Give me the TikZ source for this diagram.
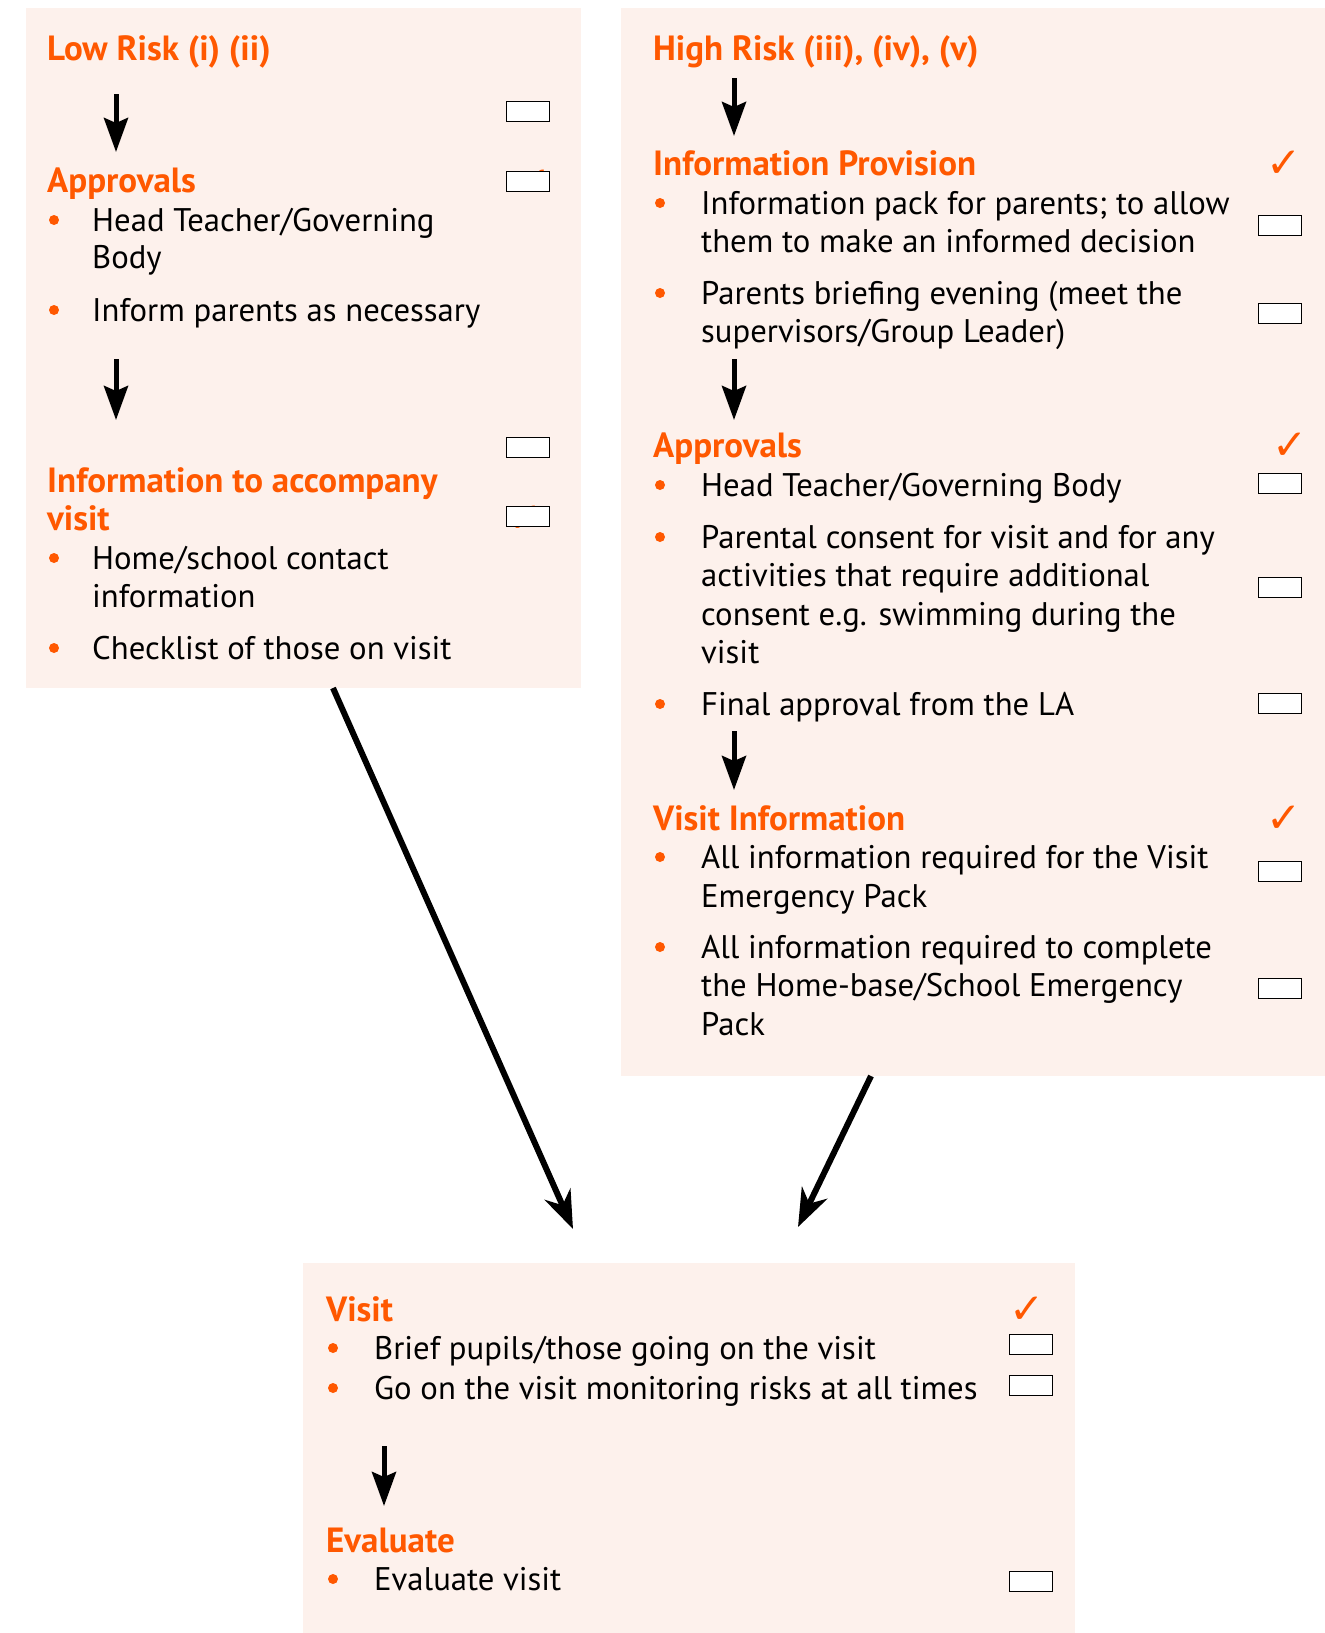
\documentclass[tikz,border=0pt]{standalone}
\usepackage{fontspec}
\setmainfont{PT Sans}
\newfontfamily\symfont{DejaVu Sans}
\usetikzlibrary{arrows.meta}
\definecolor{panelbg}{RGB}{253,241,236}
\definecolor{hot}{RGB}{255,88,0}
\begin{document}
\begin{tikzpicture}[x=1pt,y=-1pt,
  panel/.style={fill=panelbg, draw=none, inner sep=0pt, anchor=north west},
  head/.style={anchor=base west, inner sep=0pt, text=hot, font=\fontsize{35}{40}\selectfont\bfseries},
  txt/.style={anchor=base west, inner sep=0pt, font=\fontsize{32.7}{38}\selectfont},
  bul/.style={circle, fill=hot, inner sep=0pt, minimum size=10pt},
  cbox/.style={draw=black, line width=1.3pt, fill=white, minimum width=43pt, minimum height=20pt, inner sep=0pt, anchor=north west},
  tick/.style={text=hot, inner sep=0pt, font=\symfont\fontsize{42}{42}\selectfont},
  down/.style={line width=5pt, -{Stealth[length=34pt, width=24pt, inset=5pt]}},
  long/.style={line width=6pt, -{Stealth[length=38pt, width=28pt, inset=12pt]}}
]
\useasboundingbox (0,0) rectangle (1325,1633);
\fill[white] (0,0) rectangle (1325,1633);

% panels
\node[panel, minimum width=555pt, minimum height=680pt] (low) at (26,8) {};
\node[panel, minimum width=704pt, minimum height=1068pt] (high) at (621,8) {};
\node[panel, minimum width=772pt, minimum height=370pt] (vis) at (303,1263) {};

% ---------- Low risk panel ----------
\node[head] (lr) at (47,60) {Low Risk (i) (ii)};
\coordinate (la1s) at (116,94); \coordinate (la1e) at (116,152);
\draw[down] (la1s) -- (la1e);
\node[cbox] (lc1) at (506,101) {};
\node[tick] (lt2) at (534,183) {✓};
\node[cbox] (lc2) at (506,171) {};
\node[head] (lap) at (47,192) {Approvals};
\node[bul] (lb1) at (54,220) {};
\node[txt] (l1a) at (92,231) {Head Teacher/Governing};
\node[txt] (l1b) at (92,268) {Body};
\node[bul] (lb2) at (54,310) {};
\node[txt] (l2) at (92,321) {Inform parents as necessary};
\coordinate (la2s) at (116,359); \coordinate (la2e) at (116,420);
\draw[down] (la2s) -- (la2e);
\node[cbox] (lc3) at (506,437) {};
\node[head] (lia) at (47,492) {Information to accompany};
\node[head] (lib) at (47,530) {visit};
\node[tick] (lt4) at (525,519) {✓};
\node[cbox] (lc4) at (506,506) {};
\node[bul] (lb3) at (54,558) {};
\node[txt] (l3a) at (92,569) {Home/school contact};
\node[txt] (l3b) at (92,607) {information};
\node[bul] (lb4) at (54,648) {};
\node[txt] (l4) at (92,659) {Checklist of those on visit};

% ---------- High risk panel ----------
\node[head] (hr) at (653,60) {High Risk (iii), (iv), (v)};
\coordinate (ha1s) at (734,78); \coordinate (ha1e) at (734,136);
\draw[down] (ha1s) -- (ha1e);
\node[head] (hip) at (653,175) {Information Provision};
\node[tick] (ht1) at (1284,164) {✓};
\node[bul] (hb1) at (660,203) {};
\node[txt] (h1a) at (701,214) {Information pack for parents; to allow};
\node[txt] (h1b) at (701,252) {them to make an informed decision};
\node[cbox] (hc1) at (1258,215) {};
\node[bul] (hb2) at (660,293) {};
\node[txt] (h2a) at (701,304) {Parents briefing evening (meet the};
\node[txt] (h2b) at (701,342) {supervisors/Group Leader)};
\node[cbox] (hc2) at (1258,303) {};
\coordinate (ha2s) at (734,359); \coordinate (ha2e) at (734,420);
\draw[down] (ha2s) -- (ha2e);
\node[head] (hap) at (653,457) {Approvals};
\node[tick] (ht2) at (1290,446) {✓};
\node[bul] (hb3) at (660,485) {};
\node[txt] (h3) at (701,496) {Head Teacher/Governing Body};
\node[cbox] (hc3) at (1258,473) {};
\node[bul] (hb4) at (660,537) {};
\node[txt] (h4a) at (701,548) {Parental consent for visit and for any};
\node[txt] (h4b) at (701,586) {activities that require additional};
\node[txt] (h4c) at (701,625) {consent e.g. swimming during the};
\node[txt] (h4d) at (701,663) {visit};
\node[cbox] (hc4) at (1258,577) {};
\node[bul] (hb5) at (660,704) {};
\node[txt] (h5) at (701,715) {Final approval from the LA};
\node[cbox] (hc5) at (1258,693) {};
\coordinate (ha3s) at (734,731); \coordinate (ha3e) at (734,790);
\draw[down] (ha3s) -- (ha3e);
\node[head] (hvi) at (653,830) {Visit Information};
\node[tick] (ht3) at (1284,819) {✓};
\node[bul] (hb6) at (660,857) {};
\node[txt] (h6a) at (701,868) {All information required for the Visit};
\node[txt] (h6b) at (701,907) {Emergency Pack};
\node[cbox] (hc6) at (1258,861) {};
\node[bul] (hb7) at (660,947) {};
\node[txt] (h7a) at (701,958) {All information required to complete};
\node[txt] (h7b) at (701,996) {the Home-base/School Emergency};
\node[txt] (h7c) at (701,1035) {Pack};
\node[cbox] (hc7) at (1258,978) {};

% ---------- Visit panel ----------
\node[head] (vv) at (326,1321) {Visit};
\node[tick] (vt1) at (1027,1310) {✓};
\node[bul] (vb1) at (333,1348) {};
\node[txt] (v1) at (374,1359) {Brief pupils/those going on the visit};
\node[cbox] (vc1) at (1009,1334) {};
\node[bul] (vb2) at (333,1388) {};
\node[txt] (v2) at (374,1399) {Go on the visit monitoring risks at all times};
\node[cbox] (vc2) at (1009,1375) {};
\coordinate (va1s) at (384,1446); \coordinate (va1e) at (384,1506);
\draw[down] (va1s) -- (va1e);
\node[head] (ve) at (326,1552) {Evaluate};
\node[bul] (vb3) at (333,1579) {};
\node[txt] (v3) at (374,1590) {Evaluate visit};
\node[cbox] (vc3) at (1009,1571) {};

% ---------- long connectors ----------
\coordinate (lowout) at (333,688);
\coordinate (lowin) at (573,1229);
\coordinate (highout) at (871,1076);
\coordinate (highin) at (798,1227);
\draw[long] (lowout) -- (lowin);
\draw[long] (highout) -- (highin);
\end{tikzpicture}
\end{document}
